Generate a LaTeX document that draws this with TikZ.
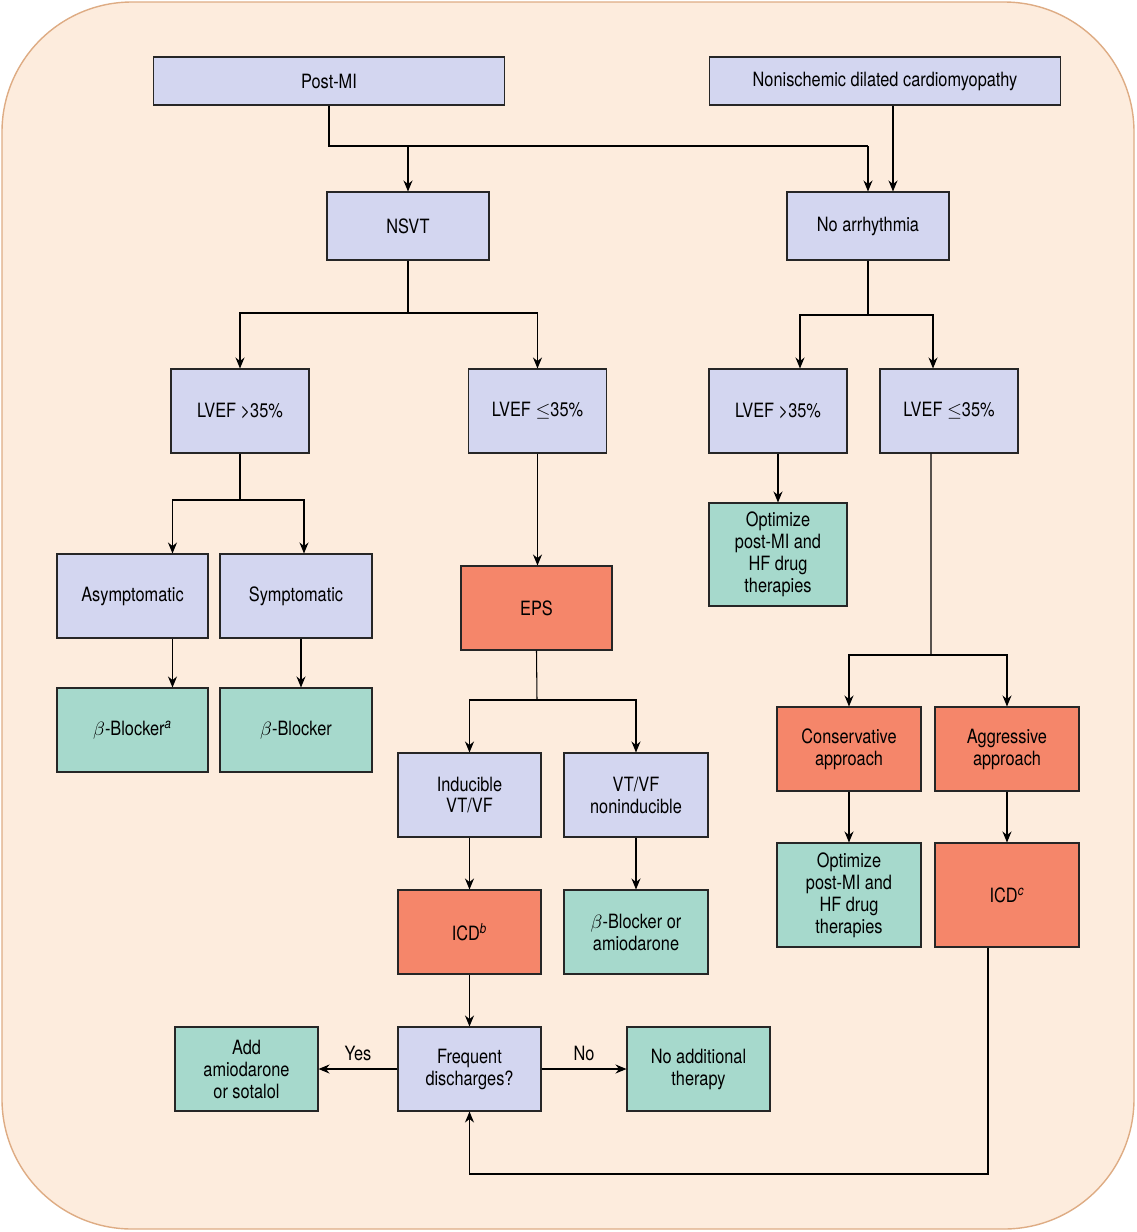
\documentclass[tikz,border=0pt]{standalone}
\usepackage{fontspec}
\setmainfont[FakeStretch=0.83]{TeX Gyre Heros}
\usepackage{xcolor}
\usepackage{tikz}
\usetikzlibrary{positioning,arrows.meta,calc}
\definecolor{bgpeach}{RGB}{253,236,221}
\definecolor{bgedge}{RGB}{222,172,132}
\definecolor{boxblue}{RGB}{211,214,240}
\definecolor{boxgreen}{RGB}{166,217,204}
\definecolor{boxred}{RGB}{245,134,106}
\tikzset{
  box/.style={draw=black!85,line width=0.6pt,align=center,inner sep=2pt,font=\fontsize{11.2}{12.5}\selectfont},
  pbox/.style={box,fill=boxblue},
  gbox/.style={box,fill=boxgreen},
  rbox/.style={box,fill=boxred},
  sz/.style 2 args={minimum width=#1,minimum height=#2},
  arr/.style={-{Stealth[length=2.2mm,width=1.8mm]},line width=0.6pt},
  ln/.style={line width=0.6pt},
  lbl/.style={font=\fontsize{11.2}{12.5}\selectfont,inner sep=1.5pt},
}

\begin{document}
\begin{tikzpicture}[x=0.02cm,y=-0.02cm]
  \useasboundingbox (0,0) rectangle (1137,1232);
  \filldraw[fill=bgpeach,draw=bgedge,line width=0.8pt,rounded corners=2.6cm] (2,2) rectangle (1134,1229);

  % top row
  \node[pbox,sz={7.04cm}{0.96cm}] (postmi) at (329,81) {Post-MI};
  \node[pbox,sz={7.04cm}{0.96cm}] (nonisch) at (885,81) {Nonischemic dilated cardiomyopathy};
  \node[pbox,sz={3.24cm}{1.36cm}] (nsvt) at (408,226) {NSVT};
  \node[pbox,sz={3.24cm}{1.36cm}] (noarr) at (868,226) {No arrhythmia};

  % LVEF level
  \node[pbox,sz={2.76cm}{1.68cm}] (lvefa) at (240,411) {LVEF >35\%};
  \node[pbox,sz={2.76cm}{1.68cm}] (lvefb) at (537.5,411) {LVEF $\leq$35\%};
  \node[pbox,sz={2.76cm}{1.68cm}] (lvefc) at (778,411) {LVEF >35\%};
  \node[pbox,sz={2.76cm}{1.68cm}] (lvefd) at (949,411) {LVEF $\leq$35\%};

  % left branch
  \node[pbox,sz={3.02cm}{1.68cm}] (asym) at (132.5,596) {Asymptomatic};
  \node[pbox,sz={3.04cm}{1.68cm}] (sym) at (296,596) {Symptomatic};
  \node[gbox,sz={3.02cm}{1.68cm}] (bba) at (132.5,730) {$\beta$-Blocker\textsuperscript{\itshape a}};
  \node[gbox,sz={3.04cm}{1.68cm}] (bbs) at (296,730) {$\beta$-Blocker};

  % EPS branch
  \node[rbox,sz={3.02cm}{1.68cm}] (eps) at (536.5,608) {EPS};
  \node[pbox,sz={2.86cm}{1.68cm}] (indu) at (469.5,795) {Inducible\\VT/VF};
  \node[pbox,sz={2.88cm}{1.68cm}] (nonind) at (636,795) {VT/VF\\noninducible};
  \node[rbox,sz={2.86cm}{1.68cm}] (icdb) at (469.5,932) {ICD\textsuperscript{\itshape b}};
  \node[gbox,sz={2.88cm}{1.68cm}] (bbor) at (636,932) {$\beta$-Blocker or\\amiodarone};
  \node[pbox,sz={2.86cm}{1.68cm}] (freq) at (469.5,1069) {Frequent\\discharges?};
  \node[gbox,sz={2.86cm}{1.68cm}] (addam) at (246.5,1069) {Add\\amiodarone\\or sotalol};
  \node[gbox,sz={2.86cm}{1.68cm}] (noadd) at (698.5,1069) {No additional\\therapy};

  % right branch
  \node[gbox,sz={2.76cm}{2.06cm}] (opta) at (778,554.5) {Optimize\\post-MI and\\HF drug\\therapies};
  \node[rbox,sz={2.88cm}{1.68cm}] (cons) at (849,749) {Conservative\\approach};
  \node[rbox,sz={2.88cm}{1.68cm}] (aggr) at (1007,749) {Aggressive\\approach};
  \node[gbox,sz={2.88cm}{2.08cm}] (optb) at (849,895) {Optimize\\post-MI and\\HF drug\\therapies};
  \node[rbox,sz={2.88cm}{2.08cm}] (icdc) at (1007,895) {ICD\textsuperscript{\itshape c}};

  % junction points
  \coordinate (j1) at (329,146);
  \coordinate (j2) at (408,313);
  \coordinate (j3) at (868,315);
  \coordinate (j4) at (240,500);
  \coordinate (j5) at (537,700);
  \coordinate (j6) at (931,655);
  \coordinate (j7) at (988,1174);

  % connectors
  \draw[ln] (postmi.south) |- (noarr.north |- j1);
  \draw[arr] (nsvt.north |- j1) -- (nsvt.north);
  \draw[arr] (noarr.north |- j1) -- (noarr.north);
  \draw[arr] ([xshift=0.5cm]noarr.north |- nonisch.south) -- ([xshift=0.5cm]noarr.north);

  \draw[ln] (nsvt.south) -- (j2);
  \draw[arr] (j2) -| (lvefa.north);
  \draw[arr] (j2) -| (lvefb.north);

  \draw[ln] (noarr.south) -- (j3);
  \draw[arr] (j3) -| ([xshift=0.44cm]lvefc.north);
  \draw[arr] (j3) -| ([xshift=-0.32cm]lvefd.north);

  \draw[ln] (lvefa.south) -- (j4);
  \draw[arr] (j4) -| ([xshift=0.8cm]asym.north);
  \draw[arr] (j4) -| ([xshift=0.16cm]sym.north);
  \draw[arr] ([xshift=0.8cm]asym.south) -- ([xshift=0.8cm]bba.north);
  \draw[arr] ([xshift=0.1cm]sym.south) -- ([xshift=0.1cm]bbs.north);

  \draw[arr] (lvefb.south) -- (lvefb.south |- eps.north);
  \draw[ln] (eps.south) -- (j5);
  \draw[arr] (j5) -| (indu.north);
  \draw[arr] (j5) -| (nonind.north);
  \draw[arr] (indu) -- (icdb);
  \draw[arr] (nonind) -- (bbor);
  \draw[arr] (icdb) -- (freq);
  \draw[arr] (freq.west) -- node[lbl,above=3pt] (yes) {Yes} (addam.east);
  \draw[arr] (freq.east) -- node[lbl,above=3pt] (no) {No} (noadd.west);

  \draw[arr] (lvefc) -- (opta);
  \draw[ln] ([xshift=-0.36cm]lvefd.south) -- (j6);
  \draw[arr] (j6) -| (cons.north);
  \draw[arr] (j6) -| (aggr.north);
  \draw[arr] (cons) -- (optb);
  \draw[arr] (aggr) -- (icdc);
  \draw[arr] (icdc.south -| j7) -- (j7) -| (freq.south);
\end{tikzpicture}
\end{document}
